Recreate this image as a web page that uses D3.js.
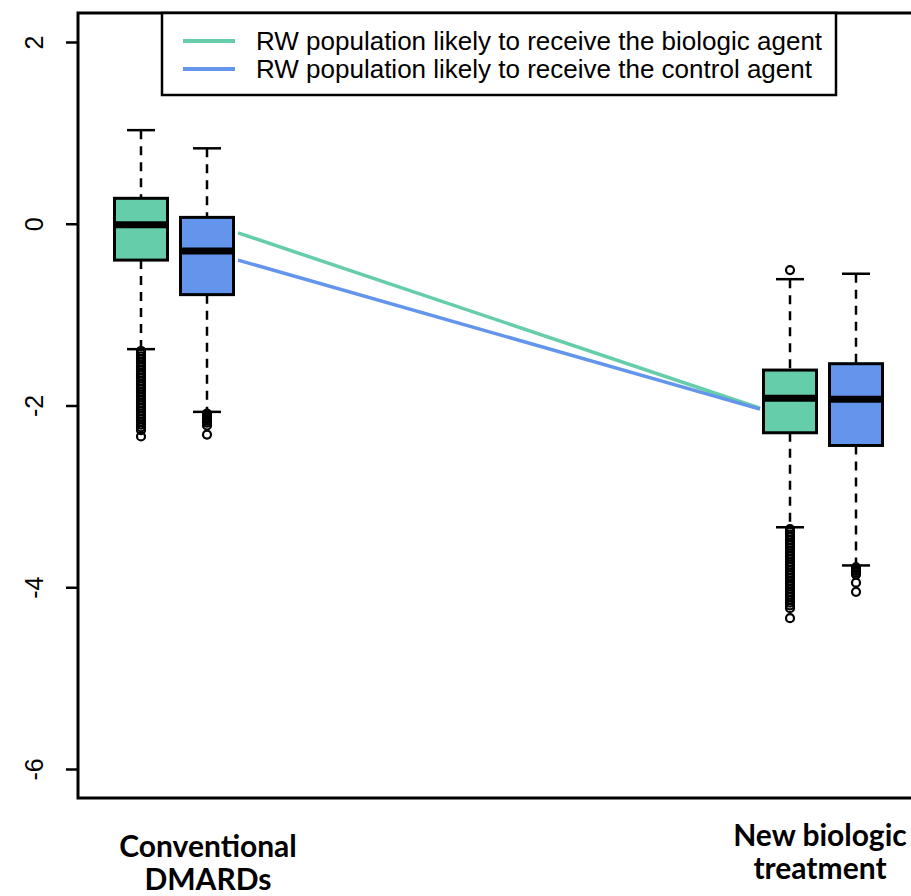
<!DOCTYPE html>
<html lang="en">
<head>
<meta charset="UTF-8">
<script src="https://cdn.jsdelivr.net/npm/d3@7/dist/d3.min.js"></script>
<style>
  html, body { margin: 0; padding: 0; background: #fff; }
  svg { display: block; }
</style>
</head>
<body>
<script>
  // --- data ---
  var groups = ["Conventional DMARDs", "New biologic treatment"];
  var seriesNames = ["RW population likely to receive the biologic agent",
                     "RW population likely to receive the control agent"];
  var seriesColors = ["#66CDAA", "#6495ED"];
  var yTicks = [-6, -4, -2, 0, 2];

  // [group][series]
  var whiskerHigh = [[1.03, 0.83], [-0.61, -0.55]];
  var q3 = [[0.28, 0.07], [-1.61, -1.54]];
  var median = [[-0.01, -0.30], [-1.92, -1.93]];
  var q1 = [[-0.40, -0.78], [-2.30, -2.44]];
  var whiskerLow = [[-1.38, -2.07], [-3.34, -3.76]];
  var outliers = [
    [
      [-1.40, -1.43, -1.46, -1.49, -1.52, -1.55, -1.58, -1.61, -1.64, -1.67, -1.70, -1.73,
       -1.76, -1.79, -1.82, -1.85, -1.88, -1.91, -1.94, -1.97, -2.00, -2.03, -2.06, -2.09,
       -2.12, -2.15, -2.18, -2.21, -2.24, -2.27, -2.34],
      [-2.09, -2.11, -2.13, -2.15, -2.17, -2.19, -2.22, -2.32]
    ],
    [
      [-0.51, -3.36, -3.39, -3.42, -3.45, -3.48, -3.51, -3.54, -3.57, -3.60, -3.63, -3.66,
       -3.69, -3.72, -3.75, -3.78, -3.81, -3.84, -3.87, -3.90, -3.93, -3.96, -3.99, -4.02,
       -4.05, -4.08, -4.11, -4.14, -4.17, -4.20, -4.23, -4.34],
      [-3.78, -3.80, -3.82, -3.84, -3.86, -3.95, -4.05]
    ]
  ];
  // [series][group] means joined by the lines
  var means = [[-0.10, -2.03], [-0.40, -2.04]];

  var width = 911, height = 896;
  var frameL = 78, frameT = 13, frameB = 798, frameR = 930;

  var svg = d3.select("body").append("svg")
    .attr("width", width)
    .attr("height", height);

  var y = d3.scaleLinear().domain([-6, 2]).range([769, 42]);
  var xGroup = d3.scalePoint().domain(groups).range([174, 823]);
  var xSeries = d3.scaleOrdinal().domain([0, 1]).range([-33, 33]);
  var boxW = 53, capW = 28;

  // y axis
  var yAxis = svg.append("g")
    .attr("transform", "translate(" + frameL + ",0)")
    .call(d3.axisLeft(y).tickValues(yTicks).tickSize(12).tickSizeOuter(0)
      .tickFormat(function(d) { return d3.format("d")(d).replace("−", "-"); }));
  yAxis.select(".domain").remove();
  yAxis.selectAll(".tick line").attr("stroke", "#000").attr("stroke-width", 2.5);
  yAxis.selectAll(".tick text")
    .attr("x", null).attr("dy", null)
    .attr("transform", "translate(-35,0) rotate(-90)")
    .style("text-anchor", "middle")
    .style("font-family", "'Liberation Sans', Arial, sans-serif")
    .style("font-size", "25px")
    .attr("fill", "#000");

  // mean lines
  var line = d3.line()
    .x(function(d, i) { return xGroup(groups[i]) + (i === 0 ? 64 : -63); })
    .y(function(d) { return y(d); });
  svg.selectAll(".mean")
    .data(means)
    .enter().append("path")
    .attr("d", line)
    .attr("fill", "none")
    .attr("stroke", function(d, i) { return seriesColors[i]; })
    .attr("stroke-width", 3.5);

  // boxes
  var cells = [];
  groups.forEach(function(g, gi) {
    seriesNames.forEach(function(s, si) {
      cells.push({g: gi, s: si, cx: xGroup(g) + xSeries(si)});
    });
  });

  var box = svg.selectAll(".box")
    .data(cells)
    .enter().append("g");

  // whiskers
  box.append("line")
    .attr("x1", function(d) { return d.cx; }).attr("x2", function(d) { return d.cx; })
    .attr("y1", function(d) { return y(whiskerHigh[d.g][d.s]); })
    .attr("y2", function(d) { return y(q3[d.g][d.s]); })
    .attr("stroke", "#000").attr("stroke-width", 2.5).attr("stroke-dasharray", "9,7");
  box.append("line")
    .attr("x1", function(d) { return d.cx; }).attr("x2", function(d) { return d.cx; })
    .attr("y1", function(d) { return y(q1[d.g][d.s]); })
    .attr("y2", function(d) { return y(whiskerLow[d.g][d.s]); })
    .attr("stroke", "#000").attr("stroke-width", 2.5).attr("stroke-dasharray", "9,7");
  // caps
  [whiskerHigh, whiskerLow].forEach(function(arr) {
    box.append("line")
      .attr("x1", function(d) { return d.cx - capW / 2; })
      .attr("x2", function(d) { return d.cx + capW / 2; })
      .attr("y1", function(d) { return y(arr[d.g][d.s]); })
      .attr("y2", function(d) { return y(arr[d.g][d.s]); })
      .attr("stroke", "#000").attr("stroke-width", 2.5);
  });
  // box body
  box.append("rect")
    .attr("x", function(d) { return d.cx - boxW / 2; })
    .attr("width", boxW)
    .attr("y", function(d) { return y(q3[d.g][d.s]); })
    .attr("height", function(d) { return y(q1[d.g][d.s]) - y(q3[d.g][d.s]); })
    .attr("fill", function(d) { return seriesColors[d.s]; })
    .attr("stroke", "#000").attr("stroke-width", 3);
  // median
  box.append("line")
    .attr("x1", function(d) { return d.cx - boxW / 2; })
    .attr("x2", function(d) { return d.cx + boxW / 2; })
    .attr("y1", function(d) { return y(median[d.g][d.s]); })
    .attr("y2", function(d) { return y(median[d.g][d.s]); })
    .attr("stroke", "#000").attr("stroke-width", 7);
  // outliers
  box.selectAll("circle")
    .data(function(d) { return outliers[d.g][d.s].map(function(v) { return {cx: d.cx, v: v}; }); })
    .enter().append("circle")
    .attr("cx", function(d) { return d.cx; })
    .attr("cy", function(d) { return y(d.v); })
    .attr("r", 4)
    .attr("fill", "none")
    .attr("stroke", "#000").attr("stroke-width", 2.2);

  // frame
  svg.append("rect")
    .attr("x", frameL).attr("y", frameT)
    .attr("width", frameR - frameL).attr("height", frameB - frameT)
    .attr("fill", "none").attr("stroke", "#000").attr("stroke-width", 3);

  // legend
  var lg = svg.append("g");
  lg.append("rect")
    .attr("x", 162).attr("y", frameT)
    .attr("width", 674).attr("height", 82)
    .attr("fill", "#fff").attr("stroke", "#000").attr("stroke-width", 2.5);
  var item = lg.selectAll(".item")
    .data(seriesNames)
    .enter().append("g")
    .attr("transform", function(d, i) { return "translate(0," + (41 + i * 28) + ")"; });
  item.append("line")
    .attr("x1", 183).attr("x2", 235)
    .attr("stroke", function(d, i) { return seriesColors[i]; })
    .attr("stroke-width", 4);
  item.append("text")
    .attr("x", 256).attr("dy", "0.35em")
    .style("font-family", "'Liberation Sans', Arial, sans-serif")
    .style("font-size", "26px")
    .text(function(d) { return d; });

  // x labels
  var xLabels = [["Conventional", "DMARDs"], ["New biologic", "treatment"]];
  var labelPos = [{x: 208, y: 857}, {x: 820, y: 846}];
  svg.selectAll(".xlab")
    .data(xLabels)
    .enter().append("text")
    .attr("x", function(d, i) { return labelPos[i].x; })
    .attr("y", function(d, i) { return labelPos[i].y; })
    .style("font-family", "Lato, 'Open Sans', sans-serif")
    .style("font-weight", "bold")
    .style("font-size", "30px")
    .style("text-anchor", "middle")
    .selectAll("tspan")
    .data(function(d) { return d; })
    .enter().append("tspan")
    .attr("x", function() { return d3.select(this.parentNode).attr("x"); })
    .attr("dy", function(d, i) { return i === 0 ? 0 : 33; })
    .text(function(d) { return d; });
</script>
</body>
</html>
